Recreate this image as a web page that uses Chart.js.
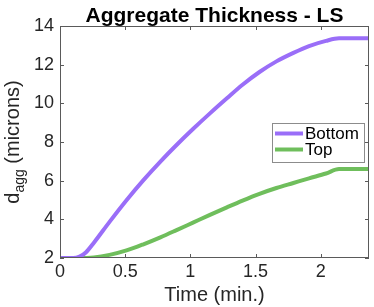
<!DOCTYPE html>
<html>
<head>
<meta charset="utf-8">
<script src="https://cdn.jsdelivr.net/npm/chart.js@4/dist/chart.umd.min.js"></script>
<style>
  html, body { margin: 0; padding: 0; background: #fff; }
  #wrap { width: 374px; height: 307px; }
</style>
</head>
<body>
<div id="wrap"><canvas id="thick"></canvas></div>
<script>
// values
const timeBottom = [0, 0.1, 0.15, 0.2, 0.26, 0.38, 0.51, 0.64, 0.77, 0.89, 1.02, 1.15, 1.28, 1.4, 1.53, 1.66, 1.79, 1.91, 2.04, 2.14, 2.37];
const bottomVals = [2.0, 2.0, 2.07, 2.3, 2.79, 3.87, 4.99, 6.03, 6.99, 7.82, 8.67, 9.48, 10.26, 10.96, 11.62, 12.17, 12.61, 12.96, 13.23, 13.36, 13.36];
const timeTop = [0, 0.13, 0.26, 0.38, 0.51, 0.64, 0.77, 0.89, 1.02, 1.15, 1.28, 1.4, 1.53, 1.66, 1.79, 1.91, 2.04, 2.14, 2.37];
const topVals = [2.0, 2.0, 2.03, 2.16, 2.39, 2.71, 3.07, 3.43, 3.83, 4.23, 4.62, 4.97, 5.32, 5.62, 5.88, 6.12, 6.37, 6.6, 6.6];
const xTicks = [0, 0.5, 1, 1.5, 2];
const yTicks = [2, 4, 6, 8, 10, 12, 14];
const seriesNames = ['Bottom', 'Top'];

const FONT = '"Liberation Sans", Arial, Helvetica, sans-serif';
const AXIS = '#5a5a5a';
const TEXT = '#262626';

function pts(xs, ys) {
    return xs.map((x, i) => ({ x: x, y: ys[i] }));
}

// title, y label with subscript, box, inward ticks, legend
const decor = {
    id: 'decor',
    afterDraw(chart) {
        const ctx = chart.ctx;
        const a = chart.chartArea;
        const xs = chart.scales.x, ys = chart.scales.y;
        ctx.save();

        // box + ticks
        ctx.strokeStyle = AXIS;
        ctx.lineWidth = 1;
        ctx.strokeRect(a.left + 0.5, a.top + 0.5, a.right - a.left - 1, a.bottom - a.top - 1);
        ctx.beginPath();
        xTicks.forEach(v => {
            const px = Math.round(xs.getPixelForValue(v)) + 0.5;
            ctx.moveTo(px, a.bottom); ctx.lineTo(px, a.bottom - 4);
            ctx.moveTo(px, a.top); ctx.lineTo(px, a.top + 4);
        });
        yTicks.forEach(v => {
            const py = Math.round(ys.getPixelForValue(v)) + 0.5;
            ctx.moveTo(a.left, py); ctx.lineTo(a.left + 4, py);
            ctx.moveTo(a.right, py); ctx.lineTo(a.right - 4, py);
        });
        ctx.stroke();

        // title
        ctx.fillStyle = '#000';
        ctx.font = 'bold 21px ' + FONT;
        ctx.textAlign = 'center';
        ctx.textBaseline = 'alphabetic';
        ctx.fillText('Aggregate Thickness - LS', (a.left + a.right) / 2, 21.5);

        // y label
        ctx.fillStyle = TEXT;
        const big = '20px ' + FONT, small = '14px ' + FONT;
        ctx.font = big;
        const wD = ctx.measureText('d').width;
        const wRest = ctx.measureText(' (microns)').width;
        ctx.font = small;
        const wSub = ctx.measureText('agg').width;
        const total = wD + wSub + wRest;
        ctx.translate(19, (a.top + a.bottom) / 2);
        ctx.rotate(-Math.PI / 2);
        ctx.textAlign = 'left';
        let cx = -total / 2;
        ctx.font = big;
        ctx.fillText('d', cx, 0);
        cx += wD;
        ctx.font = small;
        ctx.fillText('agg', cx, 5);
        cx += wSub;
        ctx.font = big;
        ctx.fillText(' (microns)', cx, 0);
        ctx.setTransform(1, 0, 0, 1, 0, 0);

        // legend
        ctx.fillStyle = '#fff';
        ctx.fillRect(272, 123, 92, 39);
        ctx.strokeStyle = '#8c8c8c';
        ctx.strokeRect(272.5, 123.5, 92, 39);
        ctx.font = '17px ' + FONT;
        ctx.textBaseline = 'middle';
        chart.data.datasets.forEach((ds, i) => {
            const y = 133.5 + i * 16;
            ctx.strokeStyle = ds.borderColor;
            ctx.lineWidth = 4;
            ctx.beginPath();
            ctx.moveTo(275, y); ctx.lineTo(303, y);
            ctx.stroke();
            ctx.fillStyle = '#000';
            ctx.fillText(ds.label, 305, y + 1);
        });
        ctx.restore();
    }
};

new Chart(document.getElementById('thick'), {
    type: 'line',
    data: {
        datasets: [
            { label: seriesNames[0], data: pts(timeBottom, bottomVals), borderColor: '#9a6ef8', borderWidth: 4, pointRadius: 0, cubicInterpolationMode: 'monotone' },
            { label: seriesNames[1], data: pts(timeTop, topVals), borderColor: '#6fbe5c', borderWidth: 4, pointRadius: 0, cubicInterpolationMode: 'monotone' }
        ]
    },
    options: {
        responsive: true,
        maintainAspectRatio: false,
        animation: false,
        layout: { padding: { top: 26, right: 5, left: 0, bottom: 0 } },
        plugins: { legend: { display: false }, title: { display: false }, tooltip: { enabled: false } },
        scales: {
            x: {
                type: 'linear', min: 0, max: 2.37,
                grid: { display: false, drawTicks: false },
                border: { display: false },
                afterBuildTicks: s => { s.ticks = xTicks.map(v => ({ value: v })); },
                afterFit: s => { s.height = 49; },
                ticks: { font: { family: FONT, size: 18 }, color: TEXT, padding: 3, maxRotation: 0, callback: v => String(v) },
                title: { display: true, text: 'Time (min.)', font: { family: FONT, size: 20 }, color: TEXT, padding: { top: 0, bottom: 0 } }
            },
            y: {
                min: 2, max: 14,
                grid: { display: false, drawTicks: false },
                border: { display: false },
                afterBuildTicks: s => { s.ticks = yTicks.map(v => ({ value: v })); },
                afterFit: s => { s.width = 60; },
                ticks: { font: { family: FONT, size: 18 }, color: TEXT, padding: 6 }
            }
        }
    },
    plugins: [decor]
});
</script>
</body>
</html>
